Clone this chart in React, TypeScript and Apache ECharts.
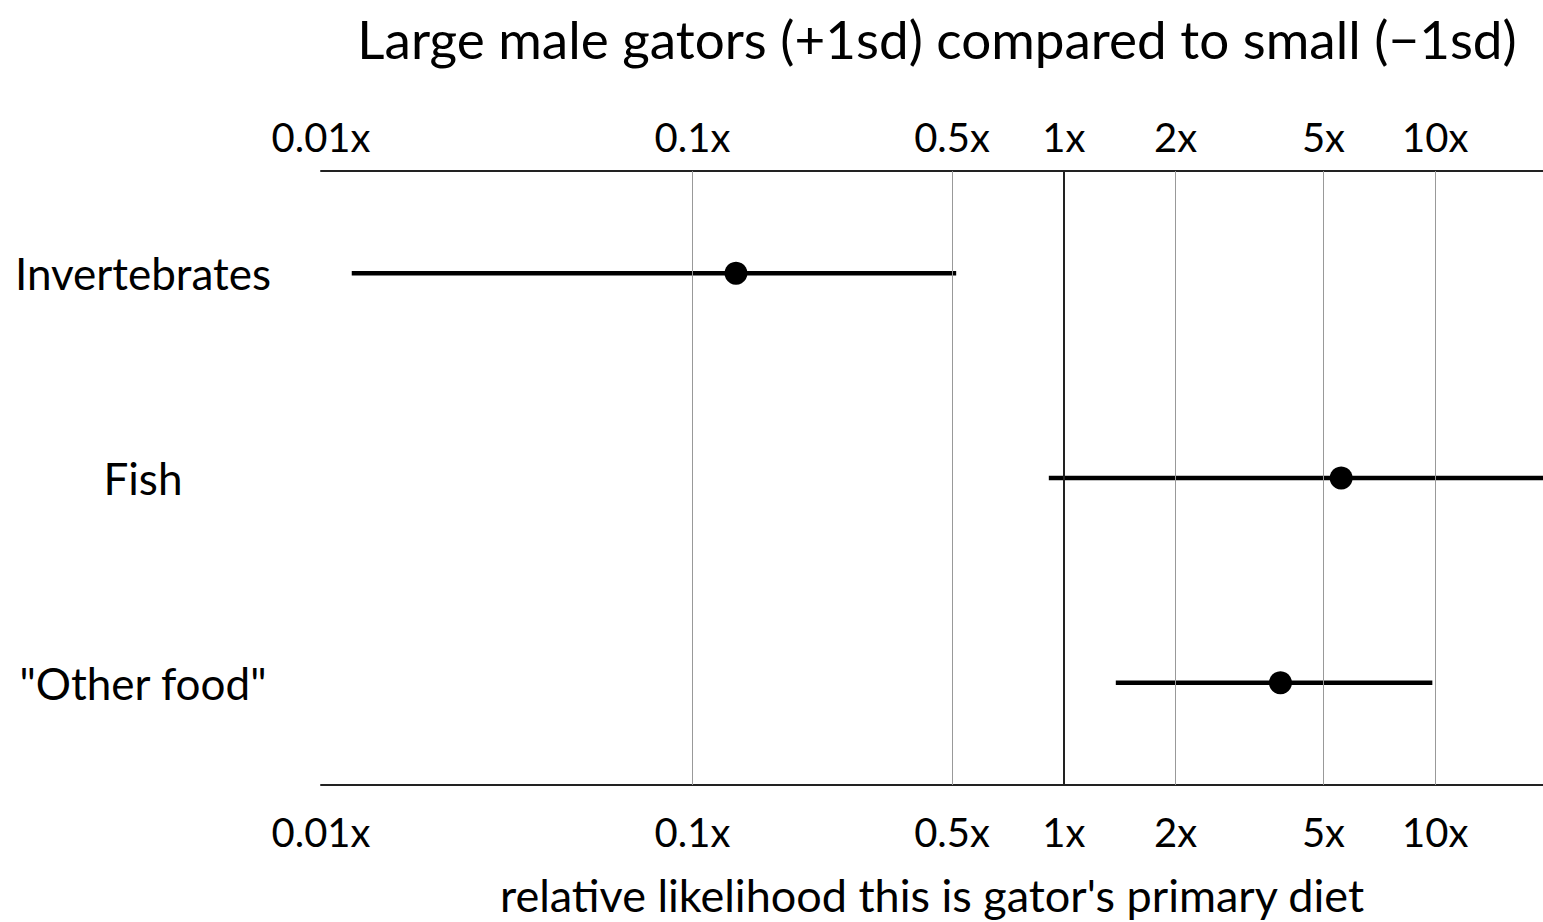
import React, { useEffect, useRef } from "react";
import * as echarts from "echarts";

// Diet categories, top to bottom
const categories = ["Invertebrates", "Fish", '"Other food"'];
// Point estimate of the relative likelihood (large vs small males)
const estimates = [0.131, 5.58, 3.83];
// Interval bounds
const lowerBounds = [0.0121, 0.911, 1.38];
const upperBounds = [0.513, 30, 9.82];
// Axis labels and vertical guide lines
const tickValues = [0.01, 0.1, 0.5, 1, 2, 5, 10];
const guideValues = [0.1, 0.5, 2, 5, 10];
const referenceValue = 1;

const FONT = "Lato";
const X_MIN = 0.01;
const X_MAX = 19.5;

export default function App() {
  const ref = useRef<HTMLDivElement>(null);

  useEffect(() => {
    if (!ref.current) return;
    const chart = echarts.init(ref.current, null, { renderer: "svg" });

    const xAxisBase = (labelMargin: number) => ({
      type: "log",
      logBase: 10,
      min: X_MIN,
      max: X_MAX,
      axisLine: { show: true, lineStyle: { color: "#222", width: 2 } },
      axisTick: { show: false },
      minorTick: { show: false },
      splitLine: { show: false },
      axisLabel: {
        customValues: tickValues,
        formatter: (v: number) => `${v}x`,
        fontFamily: FONT,
        fontSize: 40,
        color: "#000",
        margin: labelMargin,
      },
    });

    chart.setOption({
      animation: false,
      backgroundColor: "#fff",
      title: {
        text: "Large male gators (+1sd) compared to small (\u22121sd)",
        left: 932,
        textAlign: "center",
        top: 7,
        textStyle: { fontFamily: FONT, fontSize: 53, fontWeight: "normal", color: "#000" },
      },
      grid: { left: 321, right: 0, top: 171, bottom: 922 - 785 },
      xAxis: [
        {
          ...xAxisBase(27),
          position: "bottom",
          name: "relative likelihood this is gator's primary diet",
          nameLocation: "middle",
          nameGap: 87,
          nameTextStyle: { fontFamily: FONT, fontSize: 45, color: "#000" },
        },
        { ...xAxisBase(14), position: "top" },
      ],
      yAxis: {
        type: "category",
        data: categories,
        inverse: true,
        axisLine: { show: false },
        axisTick: { show: false },
        splitLine: { show: false },
        axisLabel: {
          fontFamily: FONT,
          fontSize: 44,
          color: "#000",
          align: "center",
          margin: 178,
        },
      },
      series: [
        {
          // vertical guide lines
          type: "scatter",
          xAxisIndex: 0,
          data: [],
          z: 1,
          markLine: {
            silent: true,
            symbol: ["none", "none"],
            label: { show: false },
            data: [
              ...guideValues.map((v) => ({
                xAxis: v,
                lineStyle: { color: "#999", width: 1, type: "solid" },
              })),
              {
                xAxis: referenceValue,
                lineStyle: { color: "#222", width: 2, type: "solid" },
              },
            ],
          },
        },
        {
          // interval bars
          type: "custom",
          xAxisIndex: 0,
          clip: true,
          z: 3,
          encode: { x: [0, 1], y: 2 },
          data: categories.map((_, i) => [lowerBounds[i], upperBounds[i], i]),
          renderItem: (_params: any, api: any) => {
            const idx = api.value(2);
            const p1 = api.coord([api.value(0), idx]);
            const p2 = api.coord([api.value(1), idx]);
            return {
              type: "line",
              shape: { x1: p1[0], y1: p1[1], x2: p2[0], y2: p2[1] },
              style: { stroke: "#000", lineWidth: 4.5 },
            };
          },
        },
        {
          // point estimates
          type: "scatter",
          xAxisIndex: 0,
          z: 4,
          symbol: "circle",
          symbolSize: 23,
          itemStyle: { color: "#000", opacity: 1 },
          data: categories.map((c, i) => [estimates[i], c]),
        },
      ],
    });

    return () => chart.dispose();
  }, []);

  return (
    <div
      ref={ref}
      style={{ position: "fixed", left: 0, top: 0, width: 1543, height: 922 }}
    />
  );
}
